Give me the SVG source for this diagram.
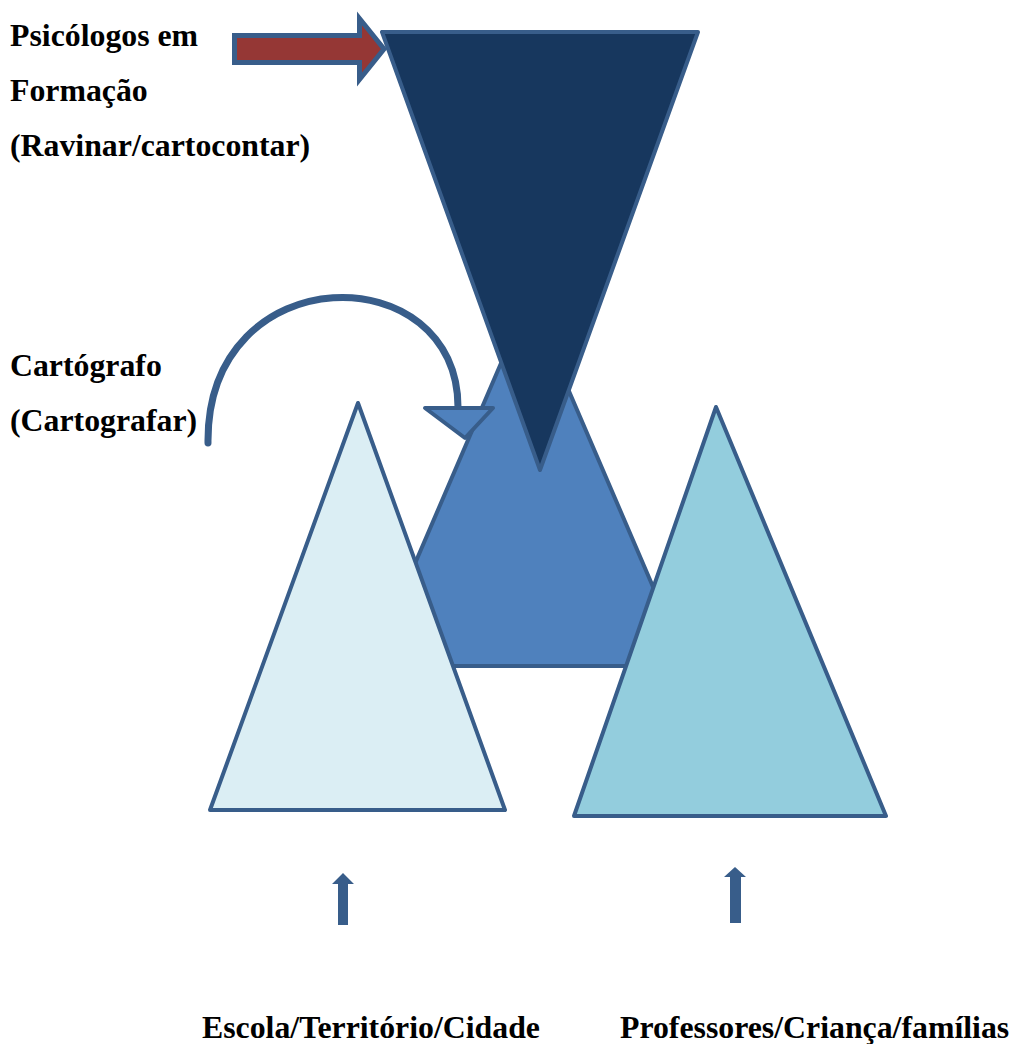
<svg xmlns="http://www.w3.org/2000/svg" width="1013" height="1044" viewBox="0 0 1013 1044">
<style>
  .shape { stroke: #385D8A; stroke-width: 4; stroke-linejoin: round; }
  .up { fill: #385D8A; }
</style>
<rect width="1013" height="1044" fill="#fff"/>
<g id="node-middle">
  <polygon class="shape" points="529,298 687,666 371,666" fill="#4F81BD"/>
</g>
<g id="node-psicologos">
  <polygon class="shape" points="382,32 698,32 540,470" fill="#17375E"/>
</g>
<g id="node-escola">
  <polygon class="shape" points="358,403 505,810 210,810" fill="#DBEEF4"/>
</g>
<g id="node-professores">
  <polygon class="shape" points="716,407 886,816 574,816" fill="#93CDDD"/>
</g>
<g id="connectors">
  <path d="M208,443 C206,255 460,255 458,409" fill="none" stroke="#385D8A" stroke-width="7" stroke-linecap="round"/>
  <polygon class="shape" points="425,408 493,408 465,438" fill="#4F81BD"/>
  <polygon points="234.5,35.5 359.5,35.5 359.5,18.5 384,49 359.5,79.5 359.5,62.5 234.5,62.5" fill="#953735" stroke="#385D8A" stroke-width="5" stroke-linejoin="miter"/>
  <polygon class="up" points="343,873 354,884 348,884 348,925 338,925 338,884 332,884"/>
  <polygon class="up" points="735,867 746,877 741,877 741,923 730,923 730,877 724,877"/>
</g>
<g id="labels" style="font-family: 'Liberation Serif', serif; font-weight: 700; font-size: 31.8px;" fill="#000">
  <text x="10" y="46">Psicólogos em</text>
  <text x="10" y="101">Formação</text>
  <text x="10" y="156">(Ravinar/cartocontar)</text>
  <text x="10" y="376">Cartógrafo</text>
  <text x="10" y="431">(Cartografar)</text>
  <text x="202" y="1038">Escola/Território/Cidade</text>
  <text x="620" y="1038">Professores/Criança/famílias</text>
</g>
</svg>
